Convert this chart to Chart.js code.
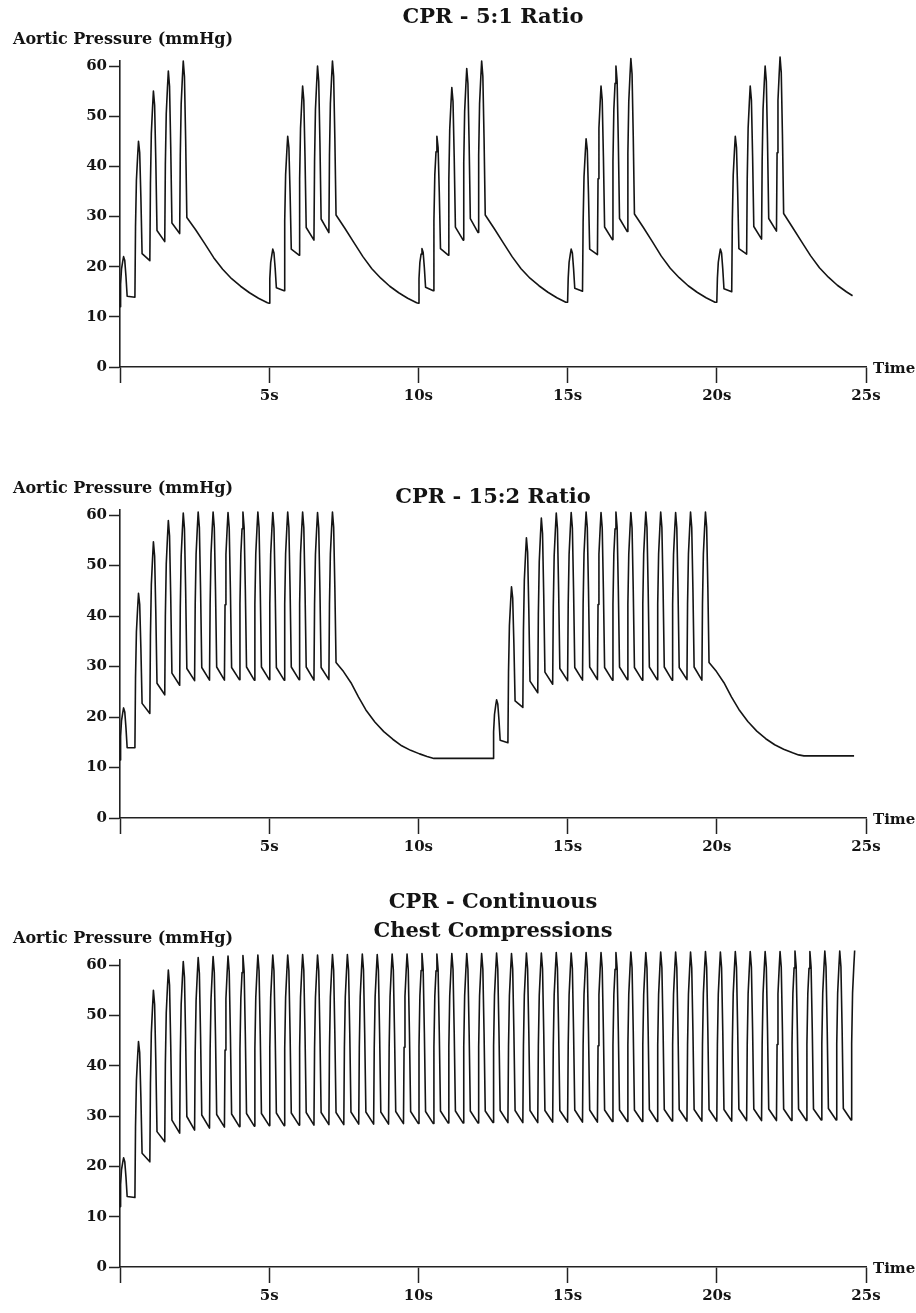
<!DOCTYPE html>
<html>
<head>
<meta charset="utf-8">
<title>CPR aortic pressure</title>
<script src="https://cdn.jsdelivr.net/npm/chart.js@4.4.1/dist/chart.umd.min.js"></script>
<style>
    html, body { margin: 0; padding: 0; background: #fff; }
    body { width: 916px; height: 1313px; position: relative; overflow: hidden; }
    canvas { position: absolute; left: 0; }
</style>
</head>
<body>
<canvas id="ratio51" width="916" height="445" style="top:0px"></canvas>
<canvas id="ratio152" width="916" height="445" style="top:445px"></canvas>
<canvas id="continuous" width="916" height="433" style="top:880px"></canvas>
<script>
// axis ticks and labels
const xTicks = [0, 5, 10, 15, 20, 25];
const xTickLabels = ['', '5s', '10s', '15s', '20s', '25s'];
const yTicks = [0, 10, 20, 30, 40, 50, 60];
const yAxisTitle = 'Aortic Pressure (mmHg)';
const xAxisTitle = 'Time';

// --- CPR 5:1 : one compression = start time (s), value before, peak, value after ---
const start51 = [0, 0.5, 1, 1.5, 2, 5, 5.5, 6, 6.5, 7, 10, 10.5, 11, 11.5, 12, 15, 15.5, 16, 16.5, 17, 20, 20.5, 21, 21.5, 22];
const peak51 = [22, 45, 55, 59, 61, 23.5, 46, 56, 60, 61, 23.6, 46, 55.7, 59.5, 61, 23.5, 45.5, 56, 60, 61.5, 23.5, 46, 56, 60, 61.8];
const low51 = [12, 13.9, 21.2, 25, 26.6, 12.7, 15.2, 22.3, 25.3, 26.8, 12.7, 15.2, 22.3, 25.3, 26.8, 12.9, 15.1, 22.4, 25.4, 27, 12.9, 15, 22.5, 25.5, 27.1];
const base51 = [14.1, 22.6, 27.2, 28.7, 29.8, 15.8, 23.5, 27.8, 29.5, 30.3, 15.9, 23.6, 27.9, 29.6, 30.3, 15.7, 23.5, 27.9, 29.6, 30.5, 15.6, 23.6, 28, 29.6, 30.6];
// pressure fall during the ventilation pauses
const decayT51 = [2.54, 2.84, 3.14, 3.44, 3.74, 4.04, 4.34, 4.64, 4.94,
    7.54, 7.84, 8.14, 8.44, 8.74, 9.04, 9.34, 9.64, 9.94,
    12.54, 12.84, 13.14, 13.44, 13.74, 14.04, 14.34, 14.64, 14.94,
    17.54, 17.84, 18.14, 18.44, 18.74, 19.04, 19.34, 19.64, 19.94,
    22.54, 22.84, 23.14, 23.44, 23.74, 24.04, 24.34, 24.55];
const decayV51 = [27.3, 24.6, 21.8, 19.5, 17.6, 16.1, 14.8, 13.7, 12.8,
    27.6, 24.8, 22.0, 19.6, 17.7, 16.1, 14.8, 13.7, 12.8,
    27.6, 24.8, 22.0, 19.6, 17.7, 16.2, 14.9, 13.8, 12.9,
    27.8, 25.0, 22.1, 19.7, 17.8, 16.2, 14.9, 13.8, 12.9,
    27.8, 25.0, 22.2, 19.8, 17.9, 16.3, 15.0, 14.2];

// --- CPR 15:2 ---
const start152 = [0, 0.5, 1, 1.5, 2, 2.5, 3, 3.5, 4, 4.5, 5, 5.5, 6, 6.5, 7,
    12.5, 13, 13.5, 14, 14.5, 15, 15.5, 16, 16.5, 17, 17.5, 18, 18.5, 19, 19.5];
const peak152 = [21.8, 44.5, 54.7, 58.9, 60.4, 60.6, 60.6, 60.5, 60.6, 60.6, 60.5, 60.6, 60.6, 60.5, 60.6,
    23.4, 45.8, 55.5, 59.4, 60.4, 60.5, 60.6, 60.5, 60.6, 60.5, 60.6, 60.6, 60.5, 60.6, 60.6];
const low152 = [11.5, 13.9, 20.7, 24.4, 26.3, 27.2, 27.3, 27.3, 27.4, 27.3, 27.4, 27.3, 27.4, 27.3, 27.4,
    11.8, 14.9, 21.9, 24.8, 26.5, 27.2, 27.3, 27.4, 27.3, 27.4, 27.3, 27.4, 27.3, 27.4, 27.3];
const base152 = [13.9, 22.7, 26.7, 28.7, 29.6, 29.8, 29.9, 29.8, 29.9, 29.9, 29.8, 29.9, 29.9, 29.8, 30.8,
    15.4, 23.2, 27.1, 28.9, 29.6, 29.8, 29.9, 29.8, 29.9, 29.8, 29.9, 29.9, 29.8, 29.9, 30.8];
const decayT152 = [7.49, 7.74, 7.99, 8.24, 8.54, 8.84, 9.14, 9.44, 9.74, 10.04, 10.29, 10.52, 12.45,
    19.99, 20.24, 20.49, 20.74, 21.04, 21.34, 21.64, 21.94, 22.24, 22.54, 22.74, 22.92, 24.6];
const decayV152 = [29.0, 26.8, 24.0, 21.4, 19.0, 17.1, 15.6, 14.3, 13.4, 12.7, 12.2, 11.8, 11.8,
    29.0, 26.8, 24.0, 21.5, 19.1, 17.2, 15.7, 14.5, 13.6, 12.9, 12.5, 12.3, 12.3];

// --- CPR continuous chest compressions ---
const startCont = [0, 0.5, 1, 1.5, 2, 2.5, 3, 3.5, 4, 4.5, 5, 5.5, 6, 6.5, 7, 7.5, 8, 8.5, 9, 9.5,
    10, 10.5, 11, 11.5, 12, 12.5, 13, 13.5, 14, 14.5, 15, 15.5, 16, 16.5, 17, 17.5, 18, 18.5, 19, 19.5,
    20, 20.5, 21, 21.5, 22, 22.5, 23, 23.5, 24, 24.5];
const peakCont = [21.7, 44.8, 55.0, 59.0, 60.7, 61.5, 61.7, 61.8, 61.9, 62.0,
    62.0, 62.0, 62.1, 62.0, 62.1, 62.1, 62.2, 62.1, 62.2, 62.2,
    62.3, 62.2, 62.3, 62.3, 62.3, 62.4, 62.3, 62.4, 62.4, 62.5,
    62.4, 62.5, 62.5, 62.5, 62.6, 62.5, 62.6, 62.6, 62.6, 62.7,
    62.6, 62.7, 62.7, 62.7, 62.7, 62.8, 62.7, 62.8, 62.8, 62.9];
const lowCont = [12.0, 13.8, 20.9, 24.9, 26.6, 27.2, 27.6, 27.8, 27.9, 28.0,
    28.1, 28.1, 28.2, 28.2, 28.3, 28.3, 28.4, 28.4, 28.4, 28.5,
    28.5, 28.5, 28.6, 28.6, 28.6, 28.7, 28.7, 28.7, 28.7, 28.8,
    28.8, 28.8, 28.8, 28.9, 28.9, 28.9, 28.9, 29.0, 29.0, 29.0,
    29.0, 29.0, 29.1, 29.1, 29.1, 29.1, 29.1, 29.2, 29.2, 29.2];
const baseCont = [14.0, 22.6, 26.9, 29.2, 29.9, 30.2, 30.3, 30.4, 30.5, 30.5,
    30.6, 30.6, 30.7, 30.7, 30.7, 30.8, 30.8, 30.8, 30.9, 30.9,
    30.9, 31.0, 31.0, 31.0, 31.0, 31.1, 31.1, 31.1, 31.1, 31.1,
    31.2, 31.2, 31.2, 31.2, 31.2, 31.3, 31.3, 31.3, 31.3, 31.3,
    31.3, 31.4, 31.4, 31.4, 31.4, 31.4, 31.4, 31.5, 31.5, 31.5];
const endCont = 24.64;

const INK = '#141414';

// each compression: quick rise to the peak, short top, then fall back to the new level
function buildTrace(starts, lows, peaks, bases, decayT, decayV, endT) {
    const pts = [];
    starts.forEach((t0, i) => {
        const b0 = lows[i], p = peaks[i], b1 = bases[i];
        pts.push({ x: t0, y: b0 });
        pts.push({ x: t0 + 0.02, y: b0 + (p - b0) * 0.45 });
        pts.push({ x: t0 + 0.05, y: b0 + (p - b0) * 0.75 });
        pts.push({ x: t0 + 0.09, y: b0 + (p - b0) * 0.9 });
        pts.push({ x: t0 + 0.12, y: p });
        pts.push({ x: t0 + 0.16, y: p - (p - b1) * 0.1 });
        pts.push({ x: t0 + 0.2, y: b1 + (p - b1) * 0.5 });
        pts.push({ x: t0 + 0.24, y: b1 });
    });
    decayT.forEach((t, i) => pts.push({ x: t, y: decayV[i] }));
    pts.sort((a, b) => a.x - b.x);
    return endT ? pts.filter(p => p.x <= endT) : pts;
}

function makeChart(id, points, layout) {
    const textPlugin = {
        id: 'cprText',
        afterDraw(chart) {
            const ctx = chart.ctx;
            const area = chart.chartArea;
            const top60 = chart.scales.y.getPixelForValue(60);
            const zero = chart.scales.y.getPixelForValue(0);
            const mid = (area.left + area.right) / 2;
            ctx.save();
            ctx.fillStyle = INK;
            ctx.textBaseline = 'middle';
            ctx.textAlign = 'center';
            ctx.font = 'bold 21px "DejaVu Serif"';
            layout.title.forEach((line, i) => ctx.fillText(line, mid, top60 + layout.titleDy[i]));
            ctx.textAlign = 'left';
            ctx.font = 'bold 16px "DejaVu Serif"';
            ctx.fillText(yAxisTitle, 13, top60 - 26);
            ctx.font = 'bold 15px "DejaVu Serif"';
            ctx.fillText(xAxisTitle, area.right + 7, zero + 2);
            ctx.restore();
        }
    };

    const tickFont = { family: 'DejaVu Serif', size: 15, weight: 'bold' };

    return new Chart(document.getElementById(id), {
        type: 'line',
        data: {
            datasets: [{
                data: points,
                borderColor: INK,
                borderWidth: 1.6,
                pointRadius: 0,
                tension: 0,
                borderJoinStyle: 'round',
                clip: false
            }]
        },
        options: {
            responsive: false,
            animation: false,
            devicePixelRatio: 1,
            layout: { padding: { left: 0, right: 50, top: layout.padTop, bottom: 0 } },
            plugins: { legend: { display: false }, tooltip: { enabled: false }, title: { display: false } },
            scales: {
                x: {
                    type: 'linear',
                    min: 0,
                    max: 25,
                    afterBuildTicks: s => { s.ticks = xTicks.map(v => ({ value: v })); },
                    afterFit: s => { s.height = layout.axisH; },
                    grid: { drawOnChartArea: false, drawTicks: true, tickLength: 16, tickColor: '#222', tickWidth: 1.5 },
                    border: { display: true, color: '#222', width: 1.6 },
                    ticks: {
                        callback: (v, i) => xTickLabels[i],
                        autoSkip: false,
                        maxRotation: 0,
                        padding: 4,
                        color: INK,
                        font: tickFont
                    }
                },
                y: {
                    min: 0,
                    max: 61,
                    afterBuildTicks: s => { s.ticks = yTicks.map(v => ({ value: v })); },
                    afterFit: s => { s.width = 120; },
                    grid: { drawOnChartArea: false, drawTicks: true, tickLength: 11, tickColor: '#222', tickWidth: 1.5 },
                    border: { display: true, color: '#222', width: 1.6 },
                    ticks: { padding: 2, color: INK, font: tickFont }
                }
            }
        },
        plugins: [textPlugin]
    });
}

makeChart('ratio51', buildTrace(start51, low51, peak51, base51, decayT51, decayV51),
    { padTop: 61, axisH: 78, title: ['CPR - 5:1 Ratio'], titleDy: [-48] });
makeChart('ratio152', buildTrace(start152, low152, peak152, base152, decayT152, decayV152),
    { padTop: 65, axisH: 72, title: ['CPR - 15:2 Ratio'], titleDy: [-18] });
makeChart('continuous', buildTrace(startCont, lowCont, peakCont, baseCont, [], [], endCont),
    { padTop: 80, axisH: 46, title: ['CPR - Continuous', 'Chest Compressions'], titleDy: [-62, -33] });
</script>
</body>
</html>
